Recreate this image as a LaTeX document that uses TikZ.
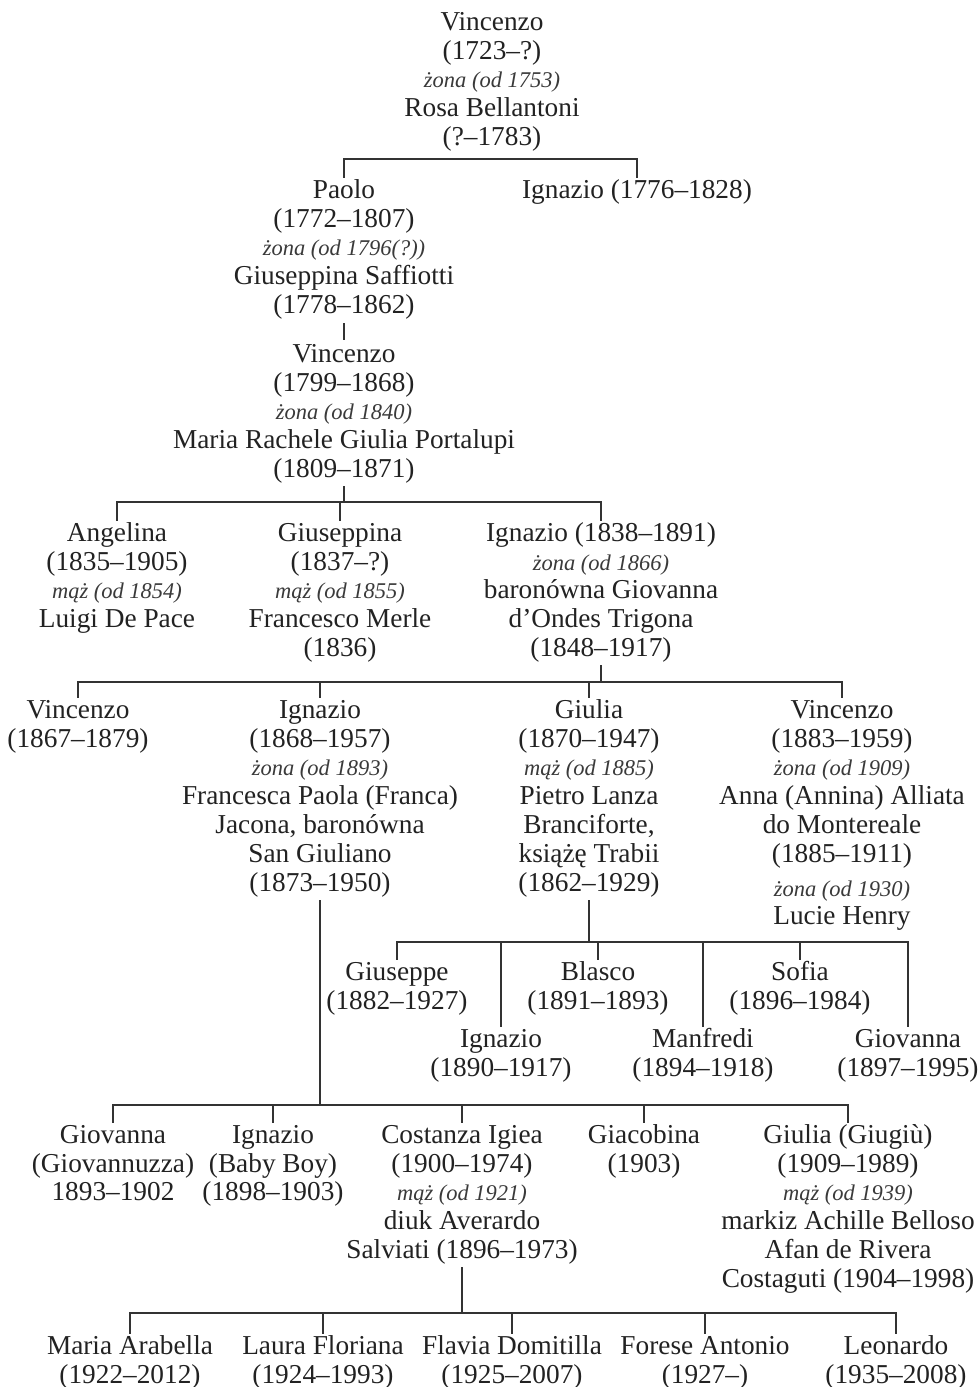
\documentclass[tikz,border=0pt]{standalone}
\usepackage{fontspec}
\setmainfont{Liberation Serif}
\definecolor{ink}{HTML}{222222}
\definecolor{inkit}{HTML}{3A3A3A}
\definecolor{linec}{HTML}{333333}
\newcommand\spz[1]{{\fontsize{22.5}{28.8}\selectfont\itshape\color{inkit}#1}}
\tikzset{
  person/.style={anchor=north, inner sep=0pt, align=center, text=ink,
    font=\fontsize{27.3}{28.8}\selectfont},
  link/.style={draw=linec, line width=1.7pt}
}
\begin{document}
\begin{tikzpicture}[x=1pt,y=-1pt]
\useasboundingbox[fill=white] (0,0) rectangle (980,1387);

% generation 0
\node[person] (p0) at (492,10) {\strut Vincenzo\\(1723–?)\\\spz{żona (od 1753)}\\Rosa Bellantoni\\(?–1783)\strut};

% generation 1
\node[person] (p1a) at (344,178) {\strut Paolo\\(1772–1807)\\\spz{żona (od 1796(?))}\\Giuseppina Saffiotti\\(1778–1862)\strut};
\node[person] (p1b) at (637,178) {\strut Ignazio (1776–1828)\strut};

\node[person] (p2) at (344,342) {\strut Vincenzo\\(1799–1868)\\\spz{żona (od 1840)}\\Maria Rachele Giulia Portalupi\\(1809–1871)\strut};

% generation 3
\node[person] (p3a) at (117,521) {\strut Angelina\\(1835–1905)\\\spz{mąż (od 1854)}\\Luigi De Pace\strut};
\node[person] (p3b) at (340,521) {\strut Giuseppina\\(1837–?)\\\spz{mąż (od 1855)}\\Francesco Merle\\(1836)\strut};
\node[person] (p3c) at (601,521) {\strut Ignazio (1838–1891)\\\spz{żona (od 1866)}\\baronówna Giovanna\\d’Ondes Trigona\\(1848–1917)\strut};

% generation 4
\node[person] (p4a) at (78,698) {\strut Vincenzo\\(1867–1879)\strut};
\node[person] (p4b) at (320,698) {\strut Ignazio\\(1868–1957)\\\spz{żona (od 1893)}\\Francesca Paola (Franca)\\Jacona, baronówna\\San Giuliano\\(1873–1950)\strut};
\node[person] (p4c) at (589,698) {\strut Giulia\\(1870–1947)\\\spz{mąż (od 1885)}\\Pietro Lanza\\Branciforte,\\książę Trabii\\(1862–1929)\strut};
\node[person] (p4d) at (842,698) {\strut Vincenzo\\(1883–1959)\\\spz{żona (od 1909)}\\Anna (Annina) Alliata\\do Montereale\\(1885–1911)\\[5pt]\spz{żona (od 1930)}\\Lucie Henry\strut};

% generation 5 (Giulia's children)
\node[person] (p5a) at (397,960) {\strut Giuseppe\\(1882–1927)\strut};
\node[person] (p5b) at (501,1027) {\strut Ignazio\\(1890–1917)\strut};
\node[person] (p5c) at (598,960) {\strut Blasco\\(1891–1893)\strut};
\node[person] (p5d) at (703,1027) {\strut Manfredi\\(1894–1918)\strut};
\node[person] (p5e) at (800,960) {\strut Sofia\\(1896–1984)\strut};
\node[person] (p5f) at (908,1027) {\strut Giovanna\\(1897–1995)\strut};

% generation 5 (Ignazio's children)
\node[person] (p6a) at (113,1123) {\strut Giovanna\\(Giovannuzza)\\1893–1902\strut};
\node[person] (p6b) at (273,1123) {\strut Ignazio\\(Baby Boy)\\(1898–1903)\strut};
\node[person] (p6c) at (462,1123) {\strut Costanza Igiea\\(1900–1974)\\\spz{mąż (od 1921)}\\diuk Averardo\\Salviati (1896–1973)\strut};
\node[person] (p6d) at (644,1123) {\strut Giacobina\\(1903)\strut};
\node[person] (p6e) at (848,1123) {\strut Giulia (Giugiù)\\(1909–1989)\\\spz{mąż (od 1939)}\\markiz Achille Belloso\\Afan de Rivera\\Costaguti (1904–1998)\strut};

% generation 6
\node[person] (p7a) at (130,1334) {\strut Maria Arabella\\(1922–2012)\strut};
\node[person] (p7b) at (323,1334) {\strut Laura Floriana\\(1924–1993)\strut};
\node[person] (p7c) at (512,1334) {\strut Flavia Domitilla\\(1925–2007)\strut};
\node[person] (p7d) at (705,1334) {\strut Forese Antonio\\(1927–)\strut};
\node[person] (p7e) at (896,1334) {\strut Leonardo\\(1935–2008)\strut};

% connectors
\coordinate (s0) at (492,159);
\draw[link] (s0) -| (p1a.north);
\draw[link] (s0) -| (p1b.north);

\draw[link, shorten <=1pt, shorten >=2pt] (p1a.south) -- (p2.north);

\coordinate (s2) at (p2.south |- 0,502);
\draw[link] (p2.south) -- (s2);
\foreach \c in {p3a,p3b,p3c} \draw[link] (s2) -| (\c.north);

\coordinate (s3) at (p3c.south |- 0,682);
\draw[link] (p3c.south) -- (s3);
\foreach \c in {p4a,p4b,p4c,p4d} \draw[link] (s3) -| (\c.north);

\coordinate (s4) at (p4c.south |- 0,942);
\draw[link] (p4c.south) -- (s4);
\foreach \c in {p5a,p5b,p5c,p5d,p5e,p5f} \draw[link] (s4) -| (\c.north);

\coordinate (s5) at (p4b.south |- 0,1105);
\draw[link] (p4b.south) -- (s5);
\foreach \c in {p6a,p6b,p6c,p6d,p6e} \draw[link] (s5) -| (\c.north);

\coordinate (s6) at (p6c.south |- 0,1313);
\draw[link] (p6c.south) -- (s6);
\foreach \c in {p7a,p7b,p7c,p7d,p7e} \draw[link] (s6) -| (\c.north);
\end{tikzpicture}
\end{document}
